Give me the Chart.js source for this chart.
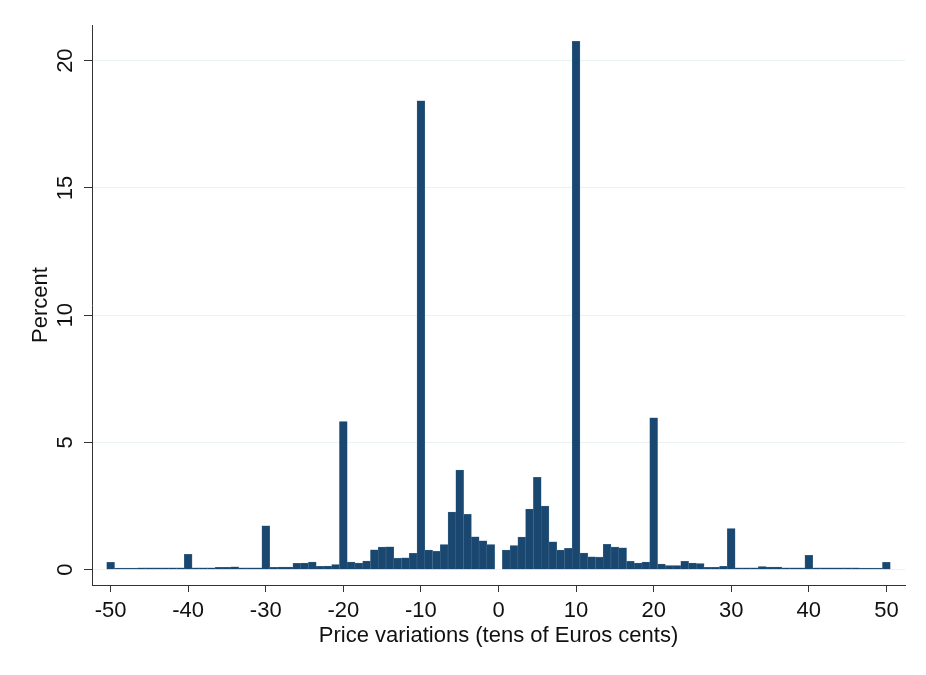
<!DOCTYPE html>
<html>
<head>
<meta charset="utf-8">
<title>Price variations histogram</title>
<script src="https://cdn.jsdelivr.net/npm/chart.js@4.4.1/dist/chart.umd.min.js"></script>
<style>
  html, body { margin: 0; padding: 0; background: #fff; }
</style>
</head>
<body>
<canvas id="histChart" width="926" height="675"></canvas>
<script>
// bins: price variation in tens of euro cents, -50 .. 50
const bins = Array.from({ length: 101 }, (_, i) => i - 50);

const percents = [
  0.29, 0.06, 0.06, 0.06, 0.07, 0.07, 0.07, 0.07, 0.07, 0.07, // -50 .. -41
  0.60, 0.07, 0.07, 0.07, 0.09, 0.09, 0.11, 0.07, 0.07, 0.07, // -40 .. -31
  1.72, 0.09, 0.10, 0.10, 0.25, 0.26, 0.30, 0.13, 0.14, 0.20, // -30 .. -21
  5.82, 0.30, 0.26, 0.34, 0.78, 0.89, 0.90, 0.46, 0.47, 0.64, // -20 .. -11
  18.42, 0.77, 0.72, 0.99, 2.26, 3.91, 2.18, 1.29, 1.14, 0.99, // -10 .. -1
  null,                                                        // 0 (no obs)
  0.77, 0.95, 1.28, 2.38, 3.63, 2.50, 1.10, 0.77, 0.84,        // 1 .. 9
  20.76, 0.65, 0.51, 0.50, 1.00, 0.89, 0.86, 0.33, 0.26, 0.30, // 10 .. 19
  5.97, 0.22, 0.16, 0.16, 0.33, 0.26, 0.24, 0.09, 0.09, 0.13,  // 20 .. 29
  1.62, 0.07, 0.07, 0.07, 0.12, 0.10, 0.10, 0.07, 0.07, 0.07,  // 30 .. 39
  0.57, 0.07, 0.07, 0.07, 0.07, 0.07, 0.07, 0.06, 0.06, 0.06,  // 40 .. 49
  0.29                                                         // 50
];

const xTicks = [-50, -40, -30, -20, -10, 0, 10, 20, 30, 40, 50];
const yTicks = [0, 5, 10, 15, 20];

const FONT = '"Liberation Sans", Arial, sans-serif';
const TEXT = "#111111";
const AXIS = "#333333";

// y tick labels in Stata are turned sideways, Chart.js won't do that on a vertical axis
const sidewaysYLabels = {
  id: "sidewaysYLabels",
  afterDraw(chart) {
    const { ctx } = chart;
    const y = chart.scales.y;
    ctx.save();
    ctx.font = "22px " + FONT;
    ctx.fillStyle = TEXT;
    ctx.textAlign = "center";
    ctx.textBaseline = "middle";
    yTicks.forEach((v) => {
      ctx.save();
      ctx.translate(y.right - 26, y.getPixelForValue(v));
      ctx.rotate(-Math.PI / 2);
      ctx.fillText(String(v), 0, 0);
      ctx.restore();
    });
    ctx.restore();
  },
};

const ctx = document.getElementById("histChart").getContext("2d");

new Chart(ctx, {
  type: "bar",
  data: {
    datasets: [
      {
        label: "Percent",
        data: bins.map((b, i) => ({ x: b, y: percents[i] })),
        backgroundColor: "#1a476f",
        borderColor: "#47708f",
        borderWidth: 0.5,
        borderSkipped: "bottom",
        barPercentage: 1,
        categoryPercentage: 1,
      },
    ],
  },
  options: {
    responsive: false,
    animation: false,
    layout: { padding: { left: 28, right: 21, top: 25, bottom: 26 } },
    plugins: {
      legend: { display: false },
      tooltip: { enabled: false },
    },
    scales: {
      x: {
        type: "linear",
        offset: false,
        min: -52.4,
        max: 52.4,
        afterBuildTicks: (scale) => {
          scale.ticks = xTicks.map((v) => ({ value: v }));
        },
        afterFit: (scale) => {
          scale.height = 64;
        },
        ticks: {
          color: TEXT,
          font: { family: FONT, size: 22 },
          padding: 6,
          maxRotation: 0,
          autoSkip: false,
          callback: (v) => String(v),
        },
        grid: {
          offset: false,
          drawOnChartArea: false,
          tickColor: AXIS,
          tickLength: 7,
        },
        border: { color: AXIS, width: 1 },
        title: {
          display: true,
          text: "Price variations (tens of Euros cents)",
          color: TEXT,
          font: { family: FONT, size: 22, lineHeight: 1.2 },
          padding: 0,
        },
      },
      y: {
        type: "linear",
        min: -0.6,
        max: 21.4,
        afterBuildTicks: (scale) => {
          scale.ticks = yTicks.map((v) => ({ value: v }));
        },
        afterFit: (scale) => {
          scale.width = 64;
        },
        ticks: { display: false },
        grid: {
          color: "#eaf2f3",
          lineWidth: 1,
          tickColor: AXIS,
          tickLength: 8,
        },
        border: { color: AXIS, width: 1 },
        title: {
          display: true,
          text: "Percent",
          color: TEXT,
          font: { family: FONT, size: 22, lineHeight: 1.2 },
          padding: 0,
        },
      },
    },
  },
  plugins: [sidewaysYLabels],
});
</script>
</body>
</html>
